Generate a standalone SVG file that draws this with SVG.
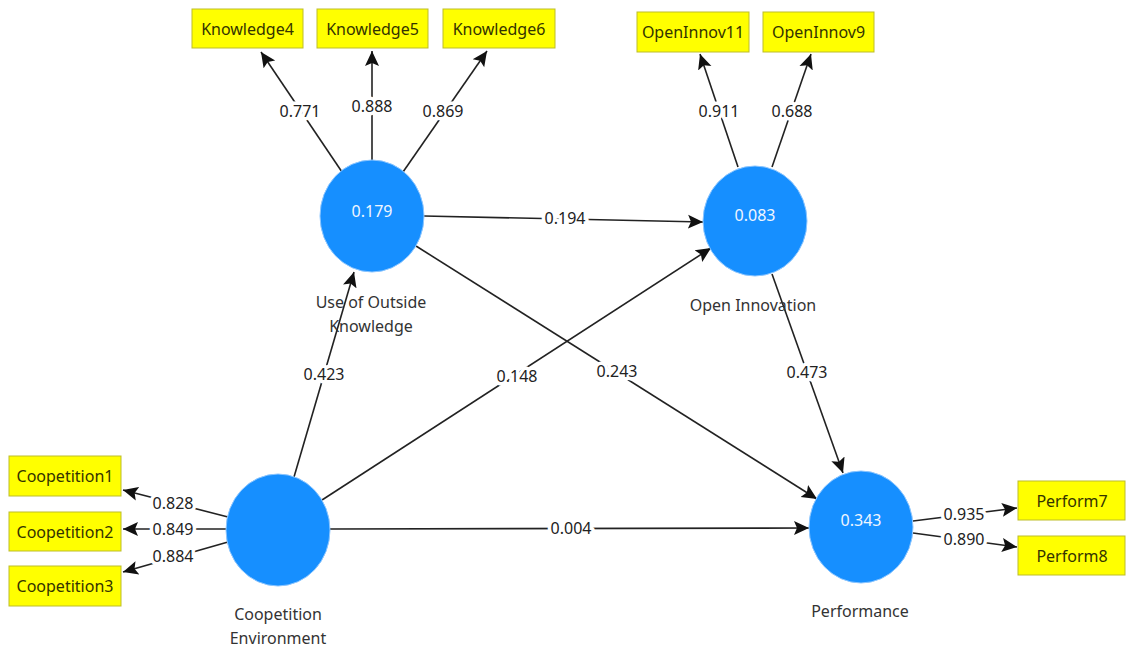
<svg xmlns="http://www.w3.org/2000/svg" width="1126" height="651" viewBox="0 0 1126 651">
<style>
text{font-family:"Noto Sans","Open Sans","DejaVu Sans",sans-serif;font-size:16px;text-anchor:middle;dominant-baseline:central}
.lv{fill:#FFFF00;stroke:#BDBD2A;stroke-width:1}
.lvt{fill:#333300}
.cir{fill:#168FFF;stroke:#8CC6FF;stroke-width:1}
.cv{fill:#F0F6FF}
.nm{fill:#333}
.ln{stroke:#222;stroke-width:1.6;fill:none;marker-end:url(#ah)}
.lab{fill:#222;stroke:#fff;stroke-width:7;paint-order:stroke;stroke-linejoin:round}
</style>
<defs>
<marker id="ah" markerUnits="userSpaceOnUse" markerWidth="16" markerHeight="16" viewBox="0 0 16 16" refX="15" refY="8" orient="auto">
<path d="M0,1 L15,8 L0,15 L3,8 Z" fill="#111"/>
</marker>
</defs>
<rect width="1126" height="651" fill="#fff"/>
<g id="connectors">
<line class="ln" x1="342" y1="172" x2="261" y2="52"/>
<line class="ln" x1="372" y1="161" x2="372" y2="51"/>
<line class="ln" x1="403" y1="172" x2="487" y2="51"/>
<line class="ln" x1="738" y1="167" x2="700" y2="54"/>
<line class="ln" x1="772" y1="167" x2="811" y2="54"/>
<line class="ln" x1="228" y1="517" x2="123" y2="490"/>
<line class="ln" x1="227" y1="529" x2="123" y2="529"/>
<line class="ln" x1="228" y1="542" x2="123" y2="572"/>
<line class="ln" x1="913" y1="521" x2="1017" y2="508"/>
<line class="ln" x1="913" y1="533" x2="1017" y2="547"/>
<line class="ln" x1="424" y1="216" x2="703" y2="222"/>
<line class="ln" x1="416" y1="246" x2="817" y2="499"/>
<line class="ln" x1="294" y1="477" x2="354" y2="272"/>
<line class="ln" x1="322" y1="500" x2="711" y2="248"/>
<line class="ln" x1="330" y1="529" x2="809" y2="528"/>
<line class="ln" x1="772" y1="274" x2="843" y2="473"/>
<text class="lab" x="300" y="111">0.771</text>
<text class="lab" x="372" y="106">0.888</text>
<text class="lab" x="443" y="111">0.869</text>
<text class="lab" x="719" y="111">0.911</text>
<text class="lab" x="792" y="111">0.688</text>
<text class="lab" x="173" y="503">0.828</text>
<text class="lab" x="173" y="529">0.849</text>
<text class="lab" x="173" y="556">0.884</text>
<text class="lab" x="964" y="514">0.935</text>
<text class="lab" x="964" y="539">0.890</text>
<text class="lab" x="565" y="218">0.194</text>
<text class="lab" x="617" y="371">0.243</text>
<text class="lab" x="324" y="374">0.423</text>
<text class="lab" x="517" y="376">0.148</text>
<text class="lab" x="571" y="528">0.004</text>
<text class="lab" x="807" y="372">0.473</text>
</g>
<g id="Knowledge4"><rect class="lv" x="192" y="9" width="111" height="39"/><text class="lvt" x="247.5" y="29">Knowledge4</text></g>
<g id="Knowledge5"><rect class="lv" x="317" y="9" width="111" height="39"/><text class="lvt" x="372.5" y="29">Knowledge5</text></g>
<g id="Knowledge6"><rect class="lv" x="443" y="9" width="112" height="39"/><text class="lvt" x="499" y="29">Knowledge6</text></g>
<g id="OpenInnov11"><rect class="lv" x="637" y="12" width="112" height="40"/><text class="lvt" x="693" y="32">OpenInnov11</text></g>
<g id="OpenInnov9"><rect class="lv" x="763" y="12" width="111" height="40"/><text class="lvt" x="818.5" y="32">OpenInnov9</text></g>
<g id="Coopetition1"><rect class="lv" x="9" y="456" width="112" height="40"/><text class="lvt" x="65" y="476">Coopetition1</text></g>
<g id="Coopetition2"><rect class="lv" x="9" y="512" width="112" height="39"/><text class="lvt" x="65" y="531.5">Coopetition2</text></g>
<g id="Coopetition3"><rect class="lv" x="9" y="566" width="112" height="40"/><text class="lvt" x="65" y="586">Coopetition3</text></g>
<g id="Perform7"><rect class="lv" x="1018" y="481" width="107" height="39"/><text class="lvt" x="1072" y="501">Perform7</text></g>
<g id="Perform8"><rect class="lv" x="1018" y="536" width="107" height="39"/><text class="lvt" x="1072" y="556">Perform8</text></g>
<g id="UseOfOutsideKnowledge">
<ellipse class="cir" cx="372" cy="216" rx="52" ry="56"/>
<text class="cv" x="372" y="211">0.179</text>
<text class="nm" x="371" y="302">Use of Outside</text>
<text class="nm" x="371" y="326">Knowledge</text>
</g>
<g id="OpenInnovation">
<ellipse class="cir" cx="755" cy="221" rx="52" ry="55"/>
<text class="cv" x="755" y="215">0.083</text>
<text class="nm" x="753" y="305">Open Innovation</text>
</g>
<g id="CoopetitionEnvironment">
<ellipse class="cir" cx="278" cy="530" rx="52" ry="56"/>
<text class="nm" x="278" y="614">Coopetition</text>
<text class="nm" x="278" y="638">Environment</text>
</g>
<g id="Performance">
<ellipse class="cir" cx="861" cy="527" rx="52" ry="56"/>
<text class="cv" x="861" y="520">0.343</text>
<text class="nm" x="860" y="611">Performance</text>
</g>
</svg>
